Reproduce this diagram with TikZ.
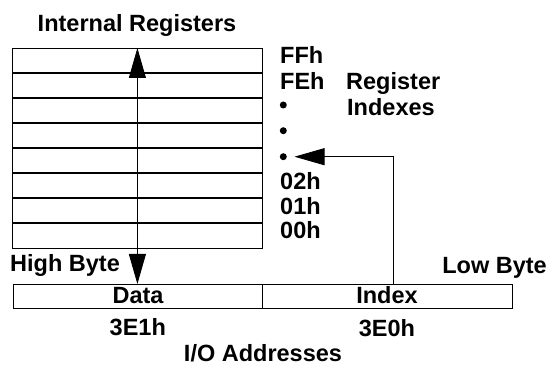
\documentclass[tikz,border=0pt]{standalone}
\usepackage{fontspec}
\setmainfont{Liberation Sans}
\usetikzlibrary{arrows.meta,calc}
\begin{document}
\begin{tikzpicture}[x=1pt,y=-1pt,
  lbl/.style={inner sep=0pt,font=\fontsize{23.5}{25}\bfseries\selectfont},
  boxline/.style={draw=black,line width=0.8pt},
  rowline/.style={draw=black,line width=1.3pt},
  bigtip/.style={-{Triangle[length=30pt,width=17pt]}},
  dot/.style={circle,fill=black,inner sep=0pt,minimum size=7pt}]
\useasboundingbox (0,0) rectangle (549,366);
% title
\node[lbl,anchor=base] (title) at (137,31.7) {Internal Registers};
% register table
\node[boxline,anchor=north west,minimum width=250pt,minimum height=200pt,inner sep=0pt] (tab) at (12,48) {};
\foreach \yy in {73,98,123,148,173,198,223}
  \draw[rowline] (tab.west |- 0,\yy) -- (tab.east |- 0,\yy);
\draw[boxline] (tab.north) -- (tab.south);
% I/O boxes
\node[boxline,anchor=north west,minimum width=249pt,minimum height=24pt,inner sep=0pt] (databox) at (13,284) {};
\node[boxline,anchor=north west,minimum width=250pt,minimum height=24pt,inner sep=0pt] (indexbox) at (262,284) {};
\node[lbl,anchor=base] (data) at (138,303.3) {Data};
\node[lbl,anchor=base] (index) at (387,303) {Index};
% register index labels
\node[lbl,anchor=base west] (ffh) at (280,64) {FFh};
\node[lbl,anchor=base west] (feh) at (280,90) {FEh};
\node[dot] (dot1) at (283.3,105) {};
\node[dot] (dot2) at (283.3,130.7) {};
\node[dot] (dot3) at (283.3,156.7) {};
\node[lbl,anchor=base west] (h02) at (280,190) {02h};
\node[lbl,anchor=base west] (h01) at (280,215) {01h};
\node[lbl,anchor=base west] (h00) at (280,239) {00h};
\node[lbl,anchor=base west] (reg) at (346,90) {Register};
\node[lbl,anchor=base west] (idxs) at (347,116) {Indexes};
% byte labels
\node[lbl,anchor=base west] (high) at (10,271.7) {High Byte};
\node[lbl,anchor=base east] (low) at (547,273.3) {Low Byte};
% addresses
\node[lbl,anchor=base] (a1) at (137.8,335.7) {3E1h};
\node[lbl,anchor=base] (a0) at (387,336.7) {3E0h};
\node[lbl,anchor=base] (io) at (263,361.5) {I/O Addresses};
% arrows
\coordinate (vtop) at (tab.north);
\coordinate (vbot) at (tab.north |- databox.north);
\draw[line width=0.8pt,{Triangle[length=30pt,width=17pt]}-{Triangle[length=30pt,width=17pt]}] (vtop) -- (vbot);
\coordinate (turn) at ($(indexbox.north)+(6,0)$);
\draw[line width=0.8pt,bigtip,shorten >=7.5pt] (turn) |- (dot3);
\end{tikzpicture}
\end{document}
